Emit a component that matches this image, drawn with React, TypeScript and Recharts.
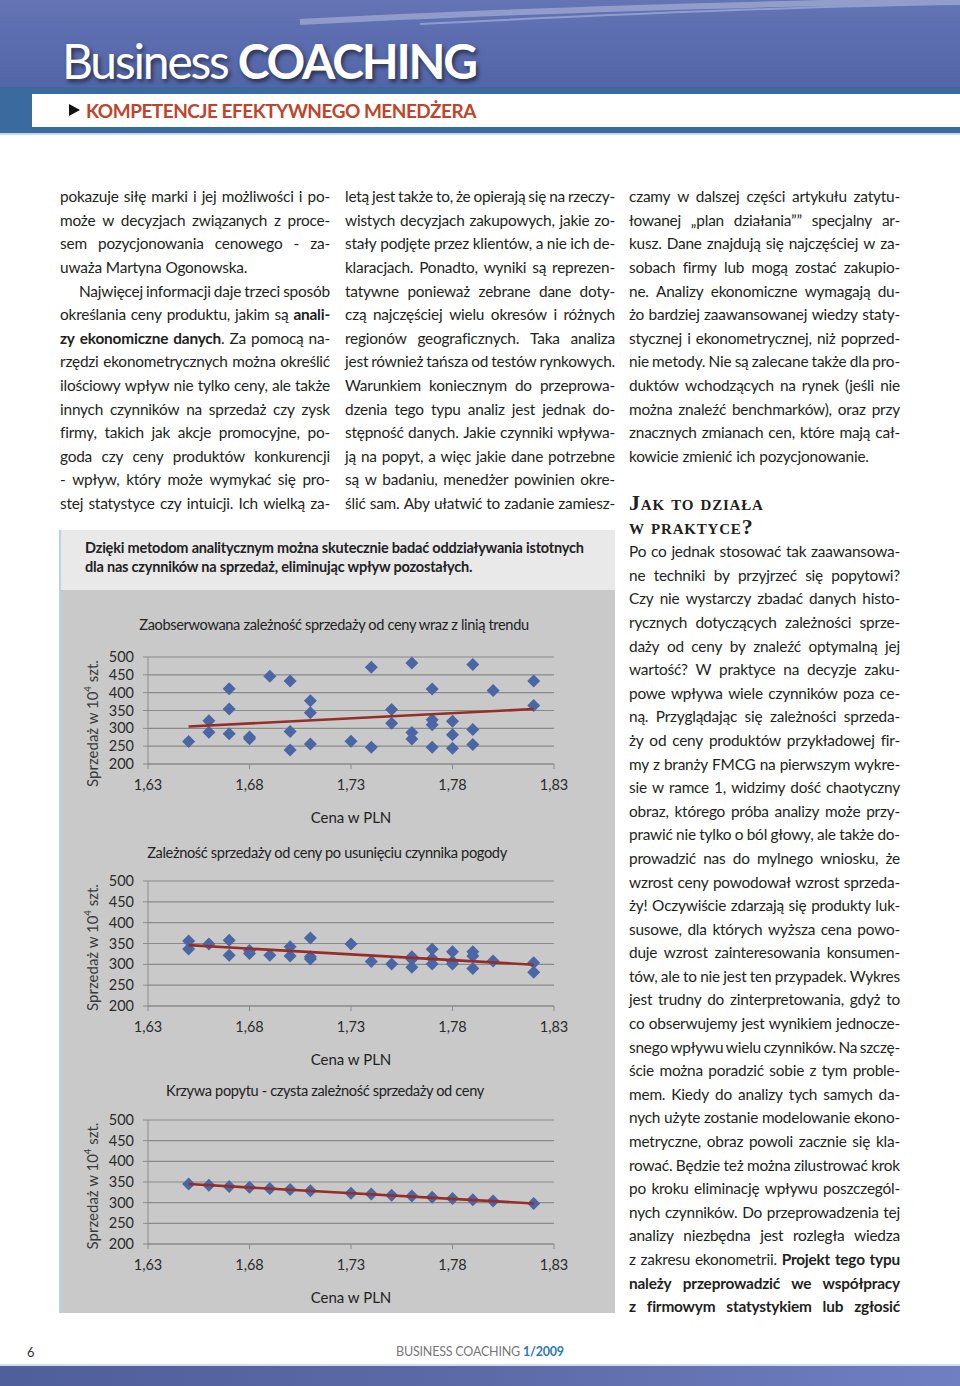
import React from "react";
import { CartesianGrid, Scatter, ScatterChart, XAxis, YAxis } from "recharts";

// osie wspólne dla trzech wykresów
const xTicks = [1.63, 1.68, 1.73, 1.78, 1.83];
const xTickLabels = ["1,63", "1,68", "1,73", "1,78", "1,83"];
const yTicks = [200, 250, 300, 350, 400, 450, 500];

// wykres 1 – obserwacje surowe
const price1 = [1.65, 1.66, 1.66, 1.67, 1.67, 1.67, 1.68, 1.68, 1.69, 1.7, 1.7, 1.7, 1.71, 1.71, 1.71, 1.73, 1.74, 1.74, 1.75, 1.75, 1.76, 1.76, 1.76, 1.77, 1.77, 1.77, 1.77, 1.78, 1.78, 1.78, 1.79, 1.79, 1.79, 1.8, 1.82, 1.82];
const sales1 = [263, 321, 289, 411, 354, 285, 276, 271, 446, 433, 291, 239, 377, 344, 256, 264, 471, 247, 353, 314, 483, 288, 270, 410, 324, 310, 247, 320, 282, 244, 479, 297, 255, 406, 433, 364];

// wykres 2 – po usunięciu pogody
const price2 = [1.65, 1.65, 1.66, 1.67, 1.67, 1.68, 1.68, 1.69, 1.7, 1.7, 1.71, 1.71, 1.71, 1.73, 1.74, 1.75, 1.76, 1.76, 1.76, 1.77, 1.77, 1.77, 1.78, 1.78, 1.78, 1.79, 1.79, 1.79, 1.8, 1.82, 1.82];
const sales2 = [356, 337, 349, 358, 322, 333, 326, 322, 342, 320, 363, 318, 313, 349, 307, 301, 318, 312, 293, 336, 314, 301, 330, 307, 301, 330, 320, 290, 308, 304, 281];

// wykres 3 – krzywa popytu
const price3 = [1.65, 1.66, 1.67, 1.68, 1.69, 1.7, 1.71, 1.73, 1.74, 1.75, 1.76, 1.77, 1.78, 1.79, 1.8, 1.82];
const sales3 = [345, 342, 339, 337, 334, 332, 329, 323, 321, 318, 316, 313, 310, 307, 304, 298];

// linie trendu (końce)
const trendPrice = [1.65, 1.82];
const trend1 = [305, 354];
const trend2 = [346, 299];
const trend3 = [345, 298];

const chartTitles = [
  "Zaobserwowana zależność sprzedaży od ceny wraz z linią trendu",
  "Zależność sprzedaży od ceny po usunięciu czynnika pogody",
  "Krzywa popytu - czysta zależność sprzedaży od ceny",
];

// ">" na początku = wcięcie akapitu, "|" na końcu = ostatni wiersz akapitu
const col1 = [
  "pokazuje siłę marki i jej możliwości i po-",
  "może w decyzjach związanych z proce-",
  "sem pozycjonowania cenowego - za-",
  "uważa Martyna Ogonowska.|",
  ">Najwięcej informacji daje trzeci sposób",
  "określania ceny produktu, jakim są **anali-**",
  "**zy ekonomiczne danych**. Za pomocą na-",
  "rzędzi ekonometrycznych można określić",
  "ilościowy wpływ nie tylko ceny, ale także",
  "innych czynników na sprzedaż czy zysk",
  "firmy, takich jak akcje promocyjne, po-",
  "goda czy ceny produktów konkurencji",
  "- wpływ, który może wymykać się pro-",
  "stej statystyce czy intuicji. Ich wielką za-",
];

const col2 = [
  "letą jest także to, że opierają się na rzeczy-",
  "wistych decyzjach zakupowych, jakie zo-",
  "stały podjęte przez klientów, a nie ich de-",
  "klaracjach. Ponadto, wyniki są reprezen-",
  "tatywne ponieważ zebrane dane doty-",
  "czą najczęściej wielu okresów i różnych",
  "regionów geograficznych. Taka analiza",
  "jest również tańsza od testów rynkowych.",
  "Warunkiem koniecznym do przeprowa-",
  "dzenia tego typu analiz jest jednak do-",
  "stępność danych. Jakie czynniki wpływa-",
  "ją na popyt, a więc jakie dane potrzebne",
  "są w badaniu, menedżer powinien okre-",
  "ślić sam. Aby ułatwić to zadanie zamiesz-",
];

const col3 = [
  "czamy w dalszej części artykułu zatytu-",
  "łowanej „plan działania”” specjalny ar-",
  "kusz. Dane znajdują się najczęściej w za-",
  "sobach firmy lub mogą zostać zakupio-",
  "ne. Analizy ekonomiczne wymagają du-",
  "żo bardziej zaawansowanej wiedzy staty-",
  "stycznej i ekonometrycznej, niż poprzed-",
  "nie metody. Nie są zalecane także dla pro-",
  "duktów wchodzących na rynek (jeśli nie",
  "można znaleźć benchmarków), oraz przy",
  "znacznych zmianach cen, które mają cał-",
  "kowicie zmienić ich pozycjonowanie.|",
];

const col3b = [
  "Po co jednak stosować tak zaawansowa-",
  "ne techniki by przyjrzeć się popytowi?",
  "Czy nie wystarczy zbadać danych histo-",
  "rycznych dotyczących zależności sprze-",
  "daży od ceny by znaleźć optymalną jej",
  "wartość? W praktyce na decyzje zaku-",
  "powe wpływa wiele czynników poza ce-",
  "ną. Przyglądając się zależności sprzeda-",
  "ży od ceny produktów przykładowej fir-",
  "my z branży FMCG na pierwszym wykre-",
  "sie w ramce 1, widzimy dość chaotyczny",
  "obraz, którego próba analizy może przy-",
  "prawić nie tylko o ból głowy, ale także do-",
  "prowadzić nas do mylnego wniosku, że",
  "wzrost ceny powodował wzrost sprzeda-",
  "ży! Oczywiście zdarzają się produkty luk-",
  "susowe, dla których wyższa cena powo-",
  "duje wzrost zainteresowania konsumen-",
  "tów, ale to nie jest ten przypadek. Wykres",
  "jest trudny do zinterpretowania, gdyż to",
  "co obserwujemy jest wynikiem jednocze-",
  "snego wpływu wielu czynników. Na szczę-",
  "ście można poradzić sobie z tym proble-",
  "mem. Kiedy do analizy tych samych da-",
  "nych użyte zostanie modelowanie ekono-",
  "metryczne, obraz powoli zacznie się kla-",
  "rować. Będzie też można zilustrować krok",
  "po kroku eliminację wpływu poszczegól-",
  "nych czynników. Do przeprowadzenia tej",
  "analizy niezbędna jest rozległa wiedza",
  "z zakresu ekonometrii. **Projekt tego typu**",
  "**należy przeprowadzić we współpracy**",
  "**z firmowym statystykiem lub zgłosić**",
];

const LH = 23.6;
const TEXT_FONT = "Lato, 'Open Sans', sans-serif";
const CHART_FONT = "Lato, sans-serif";

const pts = (xs: number[], ys: number[]) => xs.map((x, i) => ({ x, y: ys[i] }));

function TextLine({ line }: { line: string }) {
  let s = line;
  const indent = s.startsWith(">");
  if (indent) s = s.slice(1);
  const ragged = s.endsWith("|");
  if (ragged) s = s.slice(0, -1);

  const words: { text: string; bold: boolean }[][] = [[]];
  s.split("**").forEach((seg, i) => {
    seg.split(" ").forEach((piece, j) => {
      if (j > 0) words.push([]);
      if (piece) words[words.length - 1].push({ text: piece, bold: i % 2 === 1 });
    });
  });

  return (
    <div
      style={{
        display: "flex",
        justifyContent: ragged ? "flex-start" : "space-between",
        columnGap: ragged ? "0.26em" : "0.14em",
        paddingLeft: indent ? 19 : 0,
        height: LH,
        lineHeight: `${LH}px`,
        whiteSpace: "nowrap",
      }}
    >
      {words
        .filter((w) => w.length)
        .map((w, i) => (
          <span key={i}>
            {w.map((p, k) => (
              <span key={k} style={{ fontWeight: p.bold ? 700 : 400 }}>
                {p.text}
              </span>
            ))}
          </span>
        ))}
    </div>
  );
}

function Column({ lines, left, top, width }: { lines: string[]; left: number; top: number; width: number }) {
  return (
    <div
      style={{
        position: "absolute",
        left,
        top: top - LH / 2,
        width,
        fontSize: 15.4,
        letterSpacing: -0.2,
        color: "#231f20",
        fontFamily: TEXT_FONT,
      }}
    >
      {lines.map((l, i) => (
        <TextLine key={i} line={l} />
      ))}
    </div>
  );
}

function Diamond(props: { cx?: number; cy?: number; fill?: string }) {
  const { cx = 0, cy = 0, fill } = props;
  const r = 6.5;
  return <path d={`M${cx},${cy - r}L${cx + r},${cy}L${cx},${cy + r}L${cx - r},${cy}Z`} fill={fill} />;
}

function YTitle(props: { viewBox?: { x: number; y: number; width: number; height: number }; shift: number; plotH: number }) {
  const vb = props.viewBox ?? { x: 0, y: 10, width: 86, height: props.plotH };
  const cx = vb.x + 30;
  const cy = vb.y + vb.height / 2 + props.shift;
  return (
    <text
      x={cx}
      y={cy}
      transform={`rotate(-90, ${cx}, ${cy})`}
      textAnchor="middle"
      dominantBaseline="central"
      fontSize={15}
      fontFamily={CHART_FONT}
      fill="#3a3a3a"
    >
      Sprzedaż w 10
      <tspan dy={-5} fontSize={9.5}>
        4
      </tspan>
      <tspan dy={5}> szt.</tspan>
    </text>
  );
}

function Panel({
  plotTop,
  plotH,
  data,
  trend,
  title,
  titleY,
  titleX,
  shift,
}: {
  plotTop: number;
  plotH: number;
  data: { x: number; y: number }[];
  trend: { x: number; y: number }[];
  title: string;
  titleY: number;
  titleX: number;
  shift: number;
}) {
  return (
    <>
      <div
        style={{
          position: "absolute",
          left: titleX - 260,
          width: 520,
          top: titleY - 10,
          lineHeight: "20px",
          textAlign: "center",
          fontSize: 14.6,
          letterSpacing: -0.35,
          color: "#222",
          fontFamily: TEXT_FONT,
          whiteSpace: "nowrap",
        }}
      >
        {title}
      </div>
      <div style={{ position: "absolute", left: 62, top: plotTop - 10 }}>
        <ScatterChart width={553} height={10 + plotH + 70} margin={{ top: 10, right: 61, left: 0, bottom: 0 }}>
          <CartesianGrid vertical={false} stroke="#8a8a8a" strokeWidth={1.2} />
          <XAxis
            type="number"
            dataKey="x"
            domain={[1.63, 1.83]}
            ticks={xTicks}
            interval={0}
            tickFormatter={(_v: number, i: number) => xTickLabels[i]}
            height={70}
            stroke="#8a8a8a"
            tickSize={5}
            tickMargin={11}
            tick={{ fill: "#2b2b2b", fontSize: 14.5, fontFamily: CHART_FONT }}
            label={{ value: "Cena w PLN", position: "insideBottom", offset: 11, fill: "#222", fontSize: 15, fontFamily: TEXT_FONT }}
          />
          <YAxis
            type="number"
            dataKey="y"
            domain={[200, 500]}
            ticks={yTicks}
            interval={0}
            width={86}
            stroke="#8a8a8a"
            tickSize={5}
            tickMargin={9}
            tick={{ fill: "#2b2b2b", fontSize: 14.5, fontFamily: CHART_FONT }}
            label={<YTitle shift={shift} plotH={plotH} />}
          />
          <Scatter data={data} fill="#4a66a4" shape={Diamond} isAnimationActive={false} />
          <Scatter
            data={trend}
            line={{ stroke: "#962d29", strokeWidth: 2.6 }}
            lineType="joint"
            shape={() => <g />}
            isAnimationActive={false}
          />
        </ScatterChart>
      </div>
    </>
  );
}

export default function App() {
  return (
    <div style={{ position: "absolute", left: 0, top: 0, width: 960, height: 1386, overflow: "hidden", background: "#fff" }}>
      <style>{`body{margin:0}`}</style>

      {/* nagłówek */}
      <div
        style={{
          position: "absolute",
          left: 0,
          top: 0,
          width: 960,
          height: 88,
          background: "linear-gradient(180deg, #6474b4 0%, #5a6bae 55%, #5265a7 100%)",
        }}
      />
      <svg width={960} height={88} style={{ position: "absolute", left: 0, top: 0 }}>
        <path d="M300,22 C520,10 760,4 960,0" stroke="rgba(255,255,255,0.3)" strokeWidth={6} fill="none" />
        <path d="M420,24 C620,14 820,6 960,4" stroke="rgba(210,225,255,0.4)" strokeWidth={2} fill="none" />
      </svg>
      <div
        style={{
          position: "absolute",
          left: 62,
          top: 37,
          fontFamily: "Lato, sans-serif",
          fontSize: 48,
          lineHeight: "48px",
          letterSpacing: -2.2,
          color: "#fff",
          textShadow: "2px 3px 4px rgba(0,0,0,0.55)",
          whiteSpace: "nowrap",
        }}
      >
        Business <span style={{ fontWeight: 700 }}>COACHING</span>
      </div>
      <div style={{ position: "absolute", left: 0, top: 87, width: 960, height: 46, background: "#3b6b9e" }} />
      <div style={{ position: "absolute", left: 32, top: 94, width: 928, height: 33, background: "#fff" }} />
      <div style={{ position: "absolute", left: 0, top: 133, width: 960, height: 2, background: "#c9d8e6" }} />
      <div
        style={{
          position: "absolute",
          left: 69,
          top: 104,
          width: 0,
          height: 0,
          borderLeft: "11px solid #111",
          borderTop: "6.5px solid transparent",
          borderBottom: "6.5px solid transparent",
        }}
      />
      <div
        style={{
          position: "absolute",
          left: 86,
          top: 99,
          fontFamily: "Lato, sans-serif",
          fontWeight: 700,
          fontSize: 19,
          lineHeight: "24px",
          letterSpacing: -0.5,
          color: "#c1432a",
          whiteSpace: "nowrap",
        }}
      >
        KOMPETENCJE EFEKTYWNEGO MENEDŻERA
      </div>

      {/* kolumny tekstu */}
      <Column lines={col1} left={60} top={197} width={270} />
      <Column lines={col2} left={345} top={197} width={270} />
      <Column lines={col3} left={629} top={197} width={271} />
      <div
        style={{
          position: "absolute",
          left: 629,
          top: 491,
          fontFamily: "'Liberation Serif', serif",
          fontWeight: 700,
          fontVariant: "small-caps",
          fontSize: 22,
          lineHeight: "24px",
          color: "#231f20",
          letterSpacing: 0.8,
        }}
      >
        <div style={{ height: 24 }}>Jak to działa</div>
        <div style={{ height: 24 }}>w praktyce?</div>
      </div>
      <Column lines={col3b} left={629} top={552} width={271} />

      {/* ramka z wykresami */}
      <div style={{ position: "absolute", left: 60, top: 530, width: 555, height: 60, background: "#e9e9e9" }} />
      <div style={{ position: "absolute", left: 60, top: 590, width: 555, height: 723, background: "#c9c9c9" }} />
      <div style={{ position: "absolute", left: 59, top: 530, width: 2, height: 783, background: "#b9d3e6" }} />
      <div
        style={{
          position: "absolute",
          left: 85,
          top: 538,
          fontFamily: TEXT_FONT,
          fontWeight: 700,
          fontSize: 14.5,
          lineHeight: "19px",
          color: "#222",
          whiteSpace: "nowrap",
          letterSpacing: -0.2,
        }}
      >
        <div>Dzięki metodom analitycznym można skutecznie badać oddziaływania istotnych</div>
        <div>dla nas czynników na sprzedaż, eliminując wpływ pozostałych.</div>
      </div>

      <Panel plotTop={657} plotH={107} data={pts(price1, sales1)} trend={pts(trendPrice, trend1)} title={chartTitles[0]} titleY={625} titleX={334} shift={13} />
      <Panel plotTop={881} plotH={125} data={pts(price2, sales2)} trend={pts(trendPrice, trend2)} title={chartTitles[1]} titleY={853} titleX={327} shift={4} />
      <Panel plotTop={1120} plotH={124} data={pts(price3, sales3)} trend={pts(trendPrice, trend3)} title={chartTitles[2]} titleY={1091} titleX={325} shift={4} />

      {/* stopka */}
      <div style={{ position: "absolute", left: 27, top: 1344, fontFamily: TEXT_FONT, fontSize: 13, color: "#333" }}>6</div>
      <div
        style={{
          position: "absolute",
          left: 330,
          width: 300,
          top: 1344,
          textAlign: "center",
          fontFamily: TEXT_FONT,
          fontSize: 12.5,
          color: "#777",
          letterSpacing: -0.2,
        }}
      >
        BUSINESS COACHING <span style={{ color: "#2f78b3", fontWeight: 700 }}>1/2009</span>
      </div>
      <div style={{ position: "absolute", left: 0, top: 1364, width: 960, height: 2, background: "#d3dcea" }} />
      <div
        style={{
          position: "absolute",
          left: 0,
          top: 1366,
          width: 960,
          height: 20,
          background: "linear-gradient(90deg, #4f5f9b 0%, #5d6aa8 50%, #6f7fc2 100%)",
        }}
      />
    </div>
  );
}
